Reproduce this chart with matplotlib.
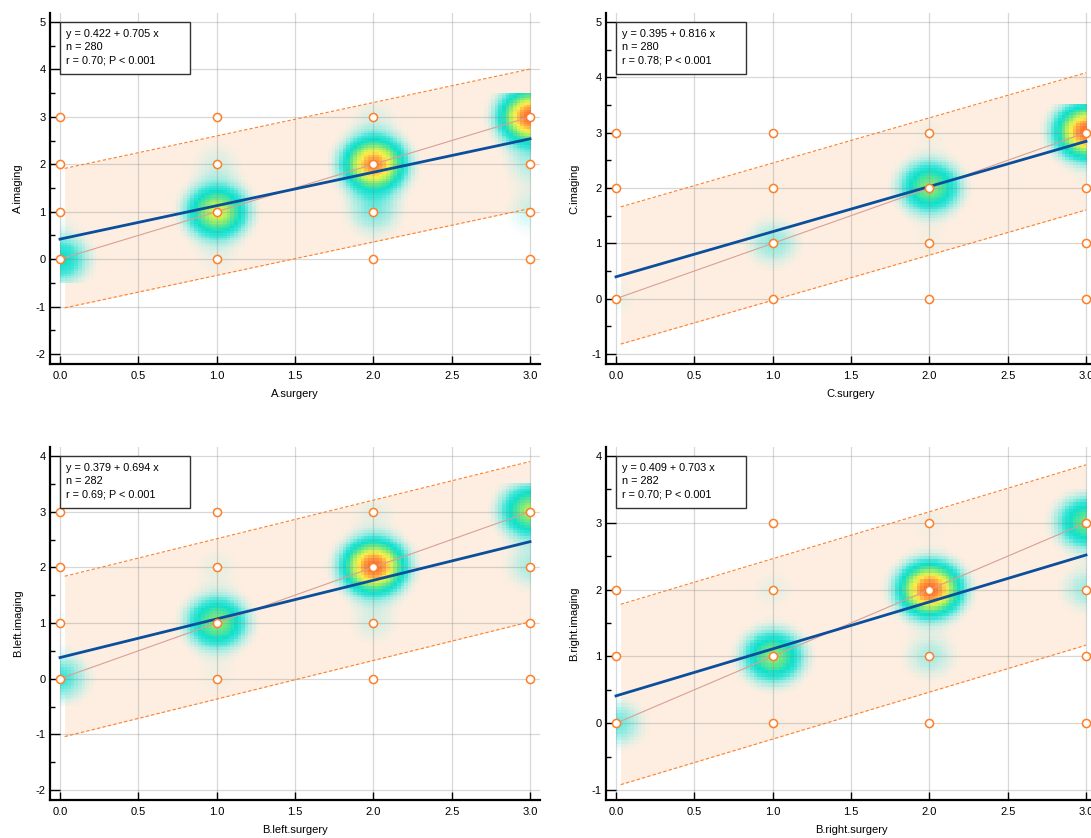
import numpy as np
import matplotlib
matplotlib.use('Agg')
import matplotlib.pyplot as plt
from matplotlib.colors import LinearSegmentedColormap
from matplotlib.patches import Rectangle

plt.rcParams['font.family'] = ['Liberation Sans', 'DejaVu Sans']
plt.rcParams['font.size'] = 8
plt.rcParams['axes.unicode_minus'] = False

x_names = ['A.surgery', 'C.surgery', 'B.left.surgery', 'B.right.surgery']
y_names = ['A.imaging', 'C.imaging', 'B.left.imaging', 'B.right.imaging']
intercepts = [0.422, 0.395, 0.379, 0.409]
slopes = [0.705, 0.816, 0.694, 0.703]
n_obs = [280, 280, 282, 282]
r_vals = [0.70, 0.78, 0.69, 0.70]
band_half = [1.47, 1.24, 1.44, 1.35]
y_tick_min = [-2, -1, -2, -1]
y_tick_max = [5, 5, 4, 4]

levels = [0, 1, 2, 3]
# counts[x][y]: number of cases with surgery grade x and imaging grade y
counts_A = [[24, 3, 2, 2], [4, 50, 6, 2], [2, 12, 72, 5], [2, 7, 8, 79]]
counts_C = [[8, 0, 2, 2], [3, 20, 5, 2], [2, 6, 70, 6], [2, 5, 5, 140]]
counts_BL = [[22, 4, 3, 2], [5, 52, 6, 2], [2, 8, 102, 6], [2, 3, 12, 57]]
counts_BR = [[18, 3, 2, 0], [4, 52, 6, 2], [2, 12, 102, 5], [2, 3, 13, 48]]
all_counts = [counts_A, counts_C, counts_BL, counts_BR]

W, H = 1091, 838
boxes = [(50, 13, 540, 364), (606, 13, 1096, 364),
         (50, 447, 540, 800), (606, 447, 1096, 800)]

heat = LinearSegmentedColormap.from_list('heat', [
    (0.00, (0.70, 0.95, 0.93, 0.0)),
    (0.03, (0.70, 0.95, 0.93, 0.0)),
    (0.10, (0.50, 0.93, 0.90, 0.5)),
    (0.20, (0.20, 0.90, 0.85, 0.9)),
    (0.30, (0.05, 0.88, 0.80, 1.0)),
    (0.45, (0.40, 0.90, 0.55, 1.0)),
    (0.58, (0.75, 0.95, 0.35, 1.0)),
    (0.70, (1.00, 0.93, 0.30, 1.0)),
    (0.85, (1.00, 0.65, 0.25, 1.0)),
    (1.00, (1.00, 0.42, 0.20, 1.0)),
])

orange = '#ff7f27'
fig = plt.figure(figsize=(W / 100, H / 100), dpi=100)

for i in range(4):
    l, t, r, b = boxes[i]
    axw, axh = r - l, b - t
    ax = fig.add_axes([l / W, 1 - b / H, axw / W, axh / H])

    ylo, yhi = y_tick_min[i], y_tick_max[i]
    ppu = (axh - 19) / (yhi - ylo)
    ylim = (ylo - 10 / ppu, yhi + 9 / ppu)
    xlim = (-0.0638, 3.0638)

    cnt = np.array(all_counts[i], dtype=float)
    nx, ny = 130, 80
    gx = (np.arange(nx) + 0.5) / nx * 3.0
    gy = -0.5 + (np.arange(ny) + 0.5) / ny * 4.0
    GX, GY = np.meshgrid(gx, gy)
    sx = 0.12
    sy = 0.046 * (ylim[1] - ylim[0])
    dens = np.zeros_like(GX)
    for xi, xv in enumerate(levels):
        for yi, yv in enumerate(levels):
            c = cnt[xi, yi]
            if c > 0:
                dens += c * np.exp(-((GX - xv) ** 2 / (2 * sx ** 2) + (GY - yv) ** 2 / (2 * sy ** 2)))
    dens /= dens.max()
    ax.imshow(dens, extent=[0, 3, -0.5, 3.5], origin='lower', aspect='auto',
              interpolation='nearest', cmap=heat, vmin=0, vmax=1, zorder=0.3)

    a, s, h = intercepts[i], slopes[i], band_half[i]
    bx = np.array([0.03, 3.0])
    ax.fill_between(bx, a + s * bx - h, a + s * bx + h, color='#fdeee1', lw=0, zorder=0.2)
    ax.plot(bx, a + s * bx + h, color=orange, lw=0.8, ls=(0, (3, 2)), zorder=3)
    ax.plot(bx, a + s * bx - h, color=orange, lw=0.8, ls=(0, (3, 2)), zorder=3)
    ax.plot([0, 3], [0, 3], color='#d9a093', lw=0.8, zorder=3)
    lx = np.array([0.0, 3.0])
    ax.plot(lx, a + s * lx, color='#0b4f9c', lw=2, zorder=4)

    px, py = np.nonzero(cnt)
    ax.scatter(np.array(levels)[px], np.array(levels)[py], s=34, facecolor='white',
               edgecolor=orange, lw=1.1, zorder=5, clip_on=False)

    ax.set_xlim(xlim)
    ax.set_ylim(ylim)
    ax.set_xticks(np.arange(0, 3.01, 0.5))
    ax.set_xticklabels(['%.1f' % v for v in np.arange(0, 3.01, 0.5)])
    ax.set_yticks(range(ylo, yhi + 1))
    ax.set_yticks(np.arange(ylo + 0.5, yhi, 1.0), minor=True)
    ax.tick_params(axis='y', which='major', direction='in', length=7, width=1, pad=3)
    ax.tick_params(axis='y', which='minor', direction='in', length=3.5, width=1)
    ax.tick_params(axis='x', which='major', direction='in', length=6, width=1, pad=5)
    for sp in ['top', 'right']:
        ax.spines[sp].set_visible(False)
    for sp in ['left', 'bottom']:
        ax.spines[sp].set_linewidth(1.6)
    ax.grid(True, which='major', color='#808080', alpha=0.3, lw=0.9)
    ax.set_axisbelow(True)

    ax.set_xlabel(x_names[i])
    ax.xaxis.set_label_coords(0.5, -25 / axh)
    ax.set_ylabel(y_names[i])
    ax.yaxis.set_label_coords(-27 / axw, 0.5)

    fx = (0 - xlim[0]) / (xlim[1] - xlim[0])
    fy = (yhi - ylim[0]) / (ylim[1] - ylim[0])
    wb, hb = 130 / axw, 52 / axh
    ax.add_patch(Rectangle((fx, fy - hb), wb, hb, transform=ax.transAxes,
                           facecolor='white', edgecolor='#333333', lw=1, zorder=6))
    txt = 'y = %.3f + %.3f x\nn = %d\nr = %.2f; P < 0.001' % (a, s, n_obs[i], r_vals[i])
    ax.text(fx + 6 / axw, fy - 7 / axh, txt, transform=ax.transAxes, va='top', ha='left',
            fontsize=7.8, linespacing=1.4, zorder=7)

fig.savefig('out.png', dpi=100)
